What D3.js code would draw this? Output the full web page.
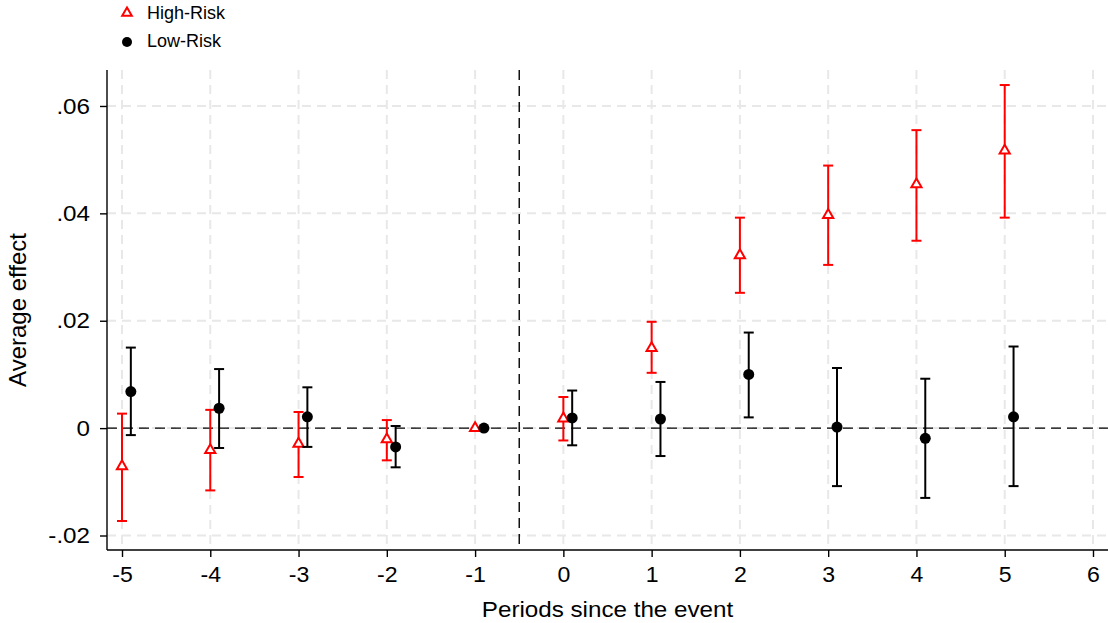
<!DOCTYPE html>
<html>
<head>
<meta charset="utf-8">
<script src="https://cdn.jsdelivr.net/npm/d3@7"></script>
<style>
  body { margin: 0; background: #fff; }
  svg { font-family: "Liberation Sans", Arial, sans-serif; }
</style>
</head>
<body>
<div id="chart"></div>
<script>
// periods since the event
const periods = [-5, -4, -3, -2, -1, 0, 1, 2, 3, 4, 5];

// High-Risk estimates and 95% CI
const highEst = [-0.0071, -0.0041, -0.0029, -0.0021, 0, 0.0018, 0.0149, 0.0322, 0.0397, 0.0454, 0.0517];
const highLo  = [-0.0173, -0.0116, -0.0091, -0.0060, 0, -0.0023, 0.0103, 0.0252, 0.0304, 0.0349, 0.0392];
const highHi  = [0.0027, 0.0034, 0.0030, 0.0015, 0, 0.0058, 0.0198, 0.0392, 0.0489, 0.0555, 0.0639];

// Low-Risk estimates and 95% CI
const lowEst = [0.0068, 0.0037, 0.0021, -0.0035, 0, 0.0019, 0.0017, 0.0100, 0.0002, -0.0019, 0.0021];
const lowLo  = [-0.0013, -0.0037, -0.0035, -0.0073, 0, -0.0032, -0.0052, 0.0020, -0.0108, -0.0130, -0.0108];
const lowHi  = [0.0150, 0.0110, 0.0076, 0.0004, 0, 0.0070, 0.0086, 0.0178, 0.0112, 0.0092, 0.0152];

const xTicks = [-5, -4, -3, -2, -1, 0, 1, 2, 3, 4, 5, 6];
const xTickLabels = ["-5", "-4", "-3", "-2", "-1", "0", "1", "2", "3", "4", "5", "6"];
const yTicks = [-0.02, 0, 0.02, 0.04, 0.06];
const yTickLabels = ["-.02", "0", ".02", ".04", ".06"];

const width = 1108, height = 623;
const margin = { top: 70, right: 0, bottom: 73, left: 107 };
const offset = 0.1; // low-risk shifted to the right

const high = periods.map((p, i) => ({ x: p, est: highEst[i], lo: highLo[i], hi: highHi[i] }));
const low = periods.map((p, i) => ({ x: p + offset, est: lowEst[i], lo: lowLo[i], hi: lowHi[i] }));

const svg = d3.select("#chart").append("svg")
  .attr("width", width)
  .attr("height", height);

const xScale = d3.scaleLinear()
  .domain([-5.17, 6.17])
  .range([margin.left, width - margin.right]);

const yScale = d3.scaleLinear()
  .domain([-0.0227, 0.0667])
  .range([height - margin.bottom, margin.top]);

// gridlines
const grid = svg.append("g").attr("class", "grid");
grid.selectAll("line.vg")
  .data(xTicks)
  .join("line")
  .attr("class", "vg")
  .attr("x1", d => xScale(d)).attr("x2", d => xScale(d))
  .attr("y1", margin.top).attr("y2", height - margin.bottom)
  .attr("stroke", "#e8e8e8").attr("stroke-width", 2)
  .attr("stroke-dasharray", "9,6");
grid.selectAll("line.hg")
  .data(yTicks)
  .join("line")
  .attr("class", "hg")
  .attr("x1", margin.left).attr("x2", width - margin.right)
  .attr("y1", d => yScale(d)).attr("y2", d => yScale(d))
  .attr("stroke", "#e8e8e8").attr("stroke-width", 2)
  .attr("stroke-dasharray", "9,6");

// reference lines
svg.append("line")
  .attr("x1", margin.left).attr("x2", width - margin.right)
  .attr("y1", yScale(0)).attr("y2", yScale(0))
  .attr("stroke", "#000").attr("stroke-width", 1.4)
  .attr("stroke-dasharray", "10,6");
svg.append("line")
  .attr("x1", xScale(-0.5)).attr("x2", xScale(-0.5))
  .attr("y1", margin.top).attr("y2", height - margin.bottom)
  .attr("stroke", "#000").attr("stroke-width", 1.4)
  .attr("stroke-dasharray", "10,6");

// axes
const xAxis = d3.axisBottom(xScale).tickValues(xTicks).tickSize(7).tickSizeOuter(0).tickPadding(9)
  .tickFormat((d, i) => xTickLabels[i]);
const yAxis = d3.axisLeft(yScale).tickValues(yTicks).tickSize(7).tickSizeOuter(0).tickPadding(10)
  .tickFormat((d, i) => yTickLabels[i]);

const gx = svg.append("g")
  .attr("transform", `translate(0,${height - margin.bottom})`)
  .call(xAxis);
const gy = svg.append("g")
  .attr("transform", `translate(${margin.left},0)`)
  .call(yAxis);
[gx, gy].forEach(g => {
  g.select(".domain").attr("stroke", "#000").attr("stroke-width", 1.4);
  g.selectAll(".tick line").attr("stroke", "#000").attr("stroke-width", 1.4);
  g.selectAll(".tick text").attr("fill", "#000").style("font-size", "22px");
});
// slightly wide glyphs, as in the reference
gx.selectAll(".tick text").attr("transform", "scale(1.05,1)");
gy.selectAll(".tick text").attr("x", -17 / 1.1).attr("transform", "scale(1.1,1)");
gy.select(".domain").attr("d", `M0,${margin.top}V${height - margin.bottom}`);
gx.select(".domain").attr("d", `M${margin.left},0H${width - margin.right}`);

// axis titles
const xTitleX = (margin.left + width - margin.right) / 2;
svg.append("text")
  .attr("transform", `translate(${xTitleX},617) scale(1.1,1)`)
  .attr("text-anchor", "middle")
  .style("font-size", "22px")
  .text("Periods since the event");
svg.append("text")
  .attr("transform", `translate(26,${(margin.top + height - margin.bottom) / 2}) rotate(-90)`)
  .attr("text-anchor", "middle")
  .style("font-size", "24px")
  .text("Average effect");

// error bars
function drawBars(data, color, cls) {
  const g = svg.append("g").attr("class", cls);
  const cap = 5;
  const withCI = data.filter(d => d.hi !== d.lo);
  g.selectAll("line.ci")
    .data(withCI)
    .join("line")
    .attr("class", "ci")
    .attr("x1", d => xScale(d.x)).attr("x2", d => xScale(d.x))
    .attr("y1", d => yScale(d.lo)).attr("y2", d => yScale(d.hi))
    .attr("stroke", color).attr("stroke-width", 2);
  ["lo", "hi"].forEach(k => {
    g.selectAll("line.cap-" + k)
      .data(withCI)
      .join("line")
      .attr("class", "cap-" + k)
      .attr("x1", d => xScale(d.x) - cap).attr("x2", d => xScale(d.x) + cap)
      .attr("y1", d => yScale(d[k])).attr("y2", d => yScale(d[k]))
      .attr("stroke", color).attr("stroke-width", 2);
  });
  return g;
}

const gHigh = drawBars(high, "#ff0000", "high");
const gLow = drawBars(low, "#000", "low");

const tri = d3.symbol().type(d3.symbolTriangle).size(45);
gHigh.selectAll("path.pt")
  .data(high)
  .join("path")
  .attr("class", "pt")
  .attr("transform", d => `translate(${xScale(d.x)},${yScale(d.est)})`)
  .attr("d", tri)
  .attr("fill", "#fff")
  .attr("stroke", "#ff0000")
  .attr("stroke-width", 2);

gLow.selectAll("circle.pt")
  .data(low)
  .join("circle")
  .attr("class", "pt")
  .attr("cx", d => xScale(d.x))
  .attr("cy", d => yScale(d.est))
  .attr("r", 5.5)
  .attr("fill", "#000");

// legend
const legend = svg.append("g").attr("class", "legend");
legend.append("path")
  .attr("transform", "translate(127,13)")
  .attr("d", d3.symbol().type(d3.symbolTriangle).size(40))
  .attr("fill", "#fff").attr("stroke", "#ff0000").attr("stroke-width", 2);
legend.append("text")
  .attr("x", 147).attr("y", 19)
  .style("font-size", "18px")
  .text("High-Risk");
legend.append("circle")
  .attr("cx", 127).attr("cy", 42).attr("r", 5)
  .attr("fill", "#000");
legend.append("text")
  .attr("x", 147).attr("y", 47)
  .style("font-size", "18px")
  .text("Low-Risk");
</script>
</body>
</html>
